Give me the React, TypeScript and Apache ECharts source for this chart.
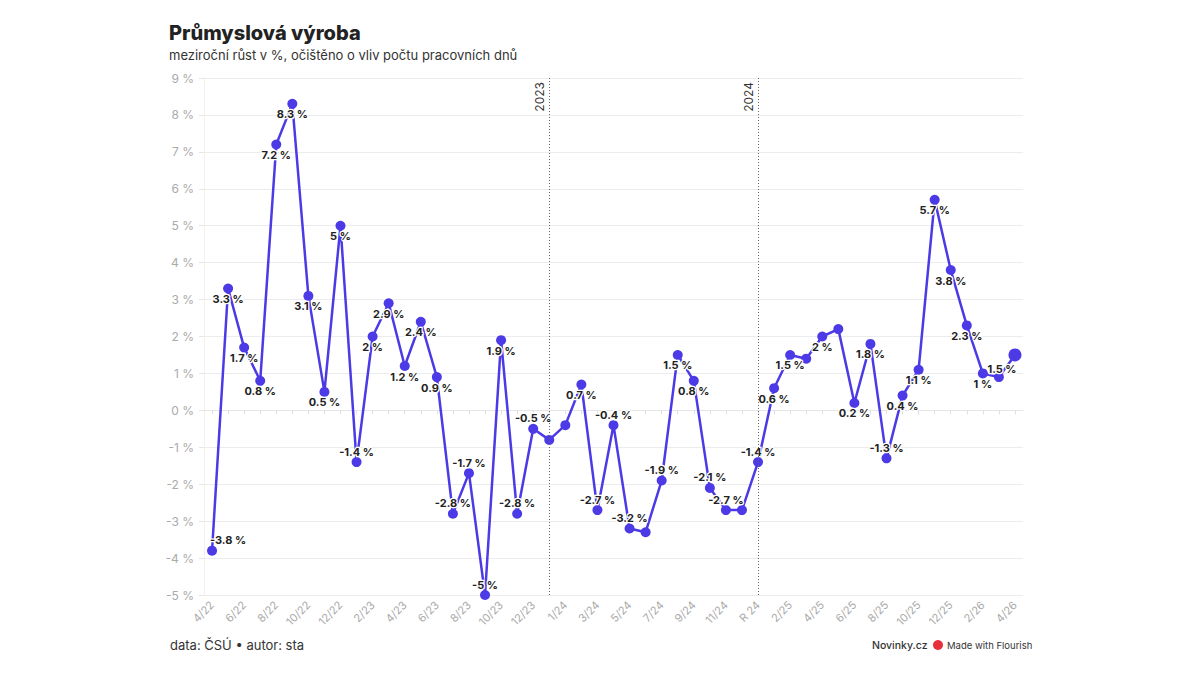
import React, { useEffect, useRef } from "react";
import * as echarts from "echarts";

const TITLE = "Průmyslová výroba";
const SUBTITLE = "meziroční růst v %, očištěno o vliv počtu pracovních dnů";
const SOURCE = "data: ČSÚ • autor: sta";

// tick labels shown on every second month
const shownLabels = [
  "4/22", "6/22", "8/22", "10/22", "12/22", "2/23", "4/23", "6/23", "8/23", "10/23",
  "12/23", "1/24", "3/24", "5/24", "7/24", "9/24", "11/24", "R 24", "2/25", "4/25",
  "6/25", "8/25", "10/25", "12/25", "2/26", "4/26",
];

const values = [
  -3.8, 3.3, 1.7, 0.8, 7.2, 8.3, 3.1, 0.5, 5, -1.4,
  2, 2.9, 1.2, 2.4, 0.9, -2.8, -1.7, -5, 1.9, -2.8,
  -0.5, -0.8, -0.4, 0.7, -2.7, -0.4, -3.2, -3.3, -1.9, 1.5,
  0.8, -2.1, -2.7, -2.7, -1.4, 0.6, 1.5, 1.4, 2, 2.2,
  0.2, 1.8, -1.3, 0.4, 1.1, 5.7, 3.8, 2.3, 1, 0.9,
  1.5,
];

// points without a value label
const unlabeled = [21, 22, 27, 33, 37, 39, 49];

// year markers (category index, text)
const yearMarkers: [number, string][] = [
  [21, "2023"],
  [34, "2024"],
];

const categories = values.map((_, i) => (i % 2 === 0 ? shownLabels[i / 2] : ""));

const FONT = "Inter, 'Noto Sans', sans-serif";
const LINE_COLOR = "#4b3ae6";

export default function App() {
  const ref = useRef<HTMLDivElement>(null);
  useEffect(() => {
    if (!ref.current) return;
    const chart = echarts.init(ref.current, undefined, { renderer: "svg" });
    const last = values.length - 1;
    const data = values.map((v, i) => {
      const item: any = { value: v };
      const hidden = unlabeled.includes(i);
      const position = v >= 0 ? "bottom" : "top";
      let offset = [0, 0];
      if (i === 0) offset = [16, 0];
      if (i === last) {
        offset = [-13, 2];
        item.symbolSize = 13;
      }
      item.label = { show: !hidden, position, offset };
      return item;
    });

    chart.setOption({
      animation: false,
      backgroundColor: "#ffffff",
      textStyle: { fontFamily: FONT },
      title: {
        text: TITLE,
        subtext: SUBTITLE,
        left: 164,
        top: 18,
        itemGap: 5,
        textStyle: { fontFamily: FONT, fontSize: 20, fontWeight: 800, color: "#222" },
        subtextStyle: { fontFamily: FONT, fontSize: 13, color: "#333" },
      },
      grid: { left: 204, right: 177, top: 78, bottom: 80, containLabel: false },
      xAxis: {
        type: "category",
        data: categories,
        boundaryGap: true,
        axisLine: { show: true, lineStyle: { color: "#e6e6e6" } },
        axisTick: { show: true, alignWithLabel: true, interval: 0, length: 4, lineStyle: { color: "#e0e0e0" } },
        axisLabel: {
          interval: 1,
          rotate: 45,
          color: "#aaa",
          fontSize: 11,
          fontFamily: FONT,
          margin: 8,
        },
        splitLine: { show: false },
      },
      yAxis: {
        type: "value",
        min: -5,
        max: 9,
        interval: 1,
        axisLine: { show: true, lineStyle: { color: "#f0f0f0" } },
        axisTick: { show: true, length: 5, lineStyle: { color: "#e6e6e6" } },
        axisLabel: {
          formatter: (v: number) => `${v} %`,
          color: "#aaa",
          fontSize: 12,
          fontFamily: FONT,
          margin: 10,
        },
        splitLine: { show: true, lineStyle: { color: "#ececec" } },
      },
      series: [
        {
          type: "line",
          data,
          symbol: "circle",
          symbolSize: 10,
          showAllSymbol: true,
          lineStyle: { color: LINE_COLOR, width: 2.5 },
          itemStyle: { color: LINE_COLOR },
          label: {
            show: true,
            distance: 0,
            formatter: (p: any) => `${p.value} %`,
            fontFamily: FONT,
            fontSize: 11,
            fontWeight: "bold",
            color: "#222",
            textBorderColor: "#fff",
            textBorderWidth: 2.5,
          },
          markLine: {
            silent: true,
            symbol: "none",
            lineStyle: { color: "#666", type: [1, 2], width: 1 },
            label: {
              show: true,
              position: "insideEndTop",
              formatter: (p: any) => p.name,
              color: "#333",
              fontSize: 12,
              fontFamily: FONT,
              distance: 4,
            },
            data: yearMarkers.map(([idx, name]) => ({ xAxis: idx, name })),
          },
        },
      ],
      graphic: [
        {
          type: "text",
          left: 170,
          top: 638,
          style: { text: SOURCE, font: `13px ${FONT}`, fill: "#333" },
        },
        {
          type: "text",
          left: 872,
          top: 640,
          style: { text: "Novinky.cz", font: `500 10.5px ${FONT}`, fill: "#333" },
        },
        {
          type: "circle",
          shape: { cx: 938, cy: 645, r: 5 },
          style: { fill: "#e8303a" },
        },
        {
          type: "text",
          left: 947,
          top: 640,
          style: { text: "Made with Flourish", font: `9.5px ${FONT}`, fill: "#333" },
        },
      ],
    });
    return () => chart.dispose();
  }, []);
  return (
    <div
      ref={ref}
      style={{ position: "fixed", left: 0, top: 0, width: 1200, height: 675, background: "#fff" }}
    />
  );
}
